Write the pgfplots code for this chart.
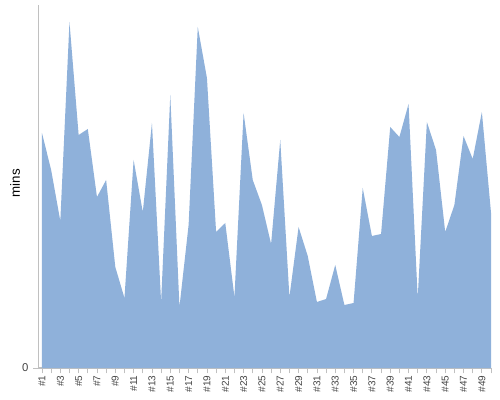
\documentclass[border=0pt]{standalone}
\usepackage{fontspec}
\setmainfont{Liberation Sans}
\usepackage{pgfplots}
\pgfplotsset{compat=1.18}
\definecolor{areablue}{RGB}{143,177,218}
\definecolor{axisgray}{RGB}{192,192,192}
\definecolor{labelgray}{RGB}{68,68,68}
\begin{document}
\begin{tikzpicture}[x=1pt,y=1pt]
\useasboundingbox (-28.875,-24) rectangle (346.125,276);
\begin{axis}[
  at={(0,0)}, anchor=south west,
  scale only axis, width=339.4pt, height=272.25pt,
  xmin=0.62, xmax=50, ymin=0, ymax=363,
  axis x line*=bottom, axis y line*=left,
  axis line style={axisgray, line width=0.8pt},
  xtick={1,...,50},
  xticklabels={\#1,,\#3,,\#5,,\#7,,\#9,,\#11,,\#13,,\#15,,\#17,,\#19,,\#21,,\#23,,\#25,,\#27,,\#29,,\#31,,\#33,,\#35,,\#37,,\#39,,\#41,,\#43,,\#45,,\#47,,\#49,},
  x tick label style={rotate=90, anchor=east, font=\fontsize{7.5}{8}\selectfont, text=labelgray, inner sep=1.5pt},
  ytick={0},
  y tick label style={font=\fontsize{8.5}{9}\selectfont, text=labelgray},
  tick style={axisgray, line width=0.6pt},
  tick align=outside, major tick length=4pt,
  ylabel={mins},
  every axis y label/.style={at={(rel axis cs:0,0.5)}, xshift=-17.6pt, yshift=2.6pt, rotate=90, anchor=center, font=\fontsize{10}{11}\selectfont, text=black},
  /pgf/number format/assume math mode=true,
]
\addplot[draw=none, fill=areablue] coordinates {
(1,235) (2,198) (3,147) (4,346) (5,233) (6,239) (7,171) (8,188) (9,101) (10,70)
(11,208) (12,156) (13,245) (14,66) (15,273) (16,61) (17,143) (18,341) (19,290) (20,136)
(21,145) (22,71) (23,255) (24,188) (25,163) (26,124) (27,228) (28,71) (29,141) (30,112)
(31,66) (32,69) (33,103) (34,63) (35,65) (36,180) (37,132) (38,134) (39,241) (40,231)
(41,264) (42,70) (43,246) (44,218) (45,136) (46,163) (47,232) (48,209) (49,256) (50,155)
} \closedcycle;
\end{axis}
\end{tikzpicture}
\end{document}
